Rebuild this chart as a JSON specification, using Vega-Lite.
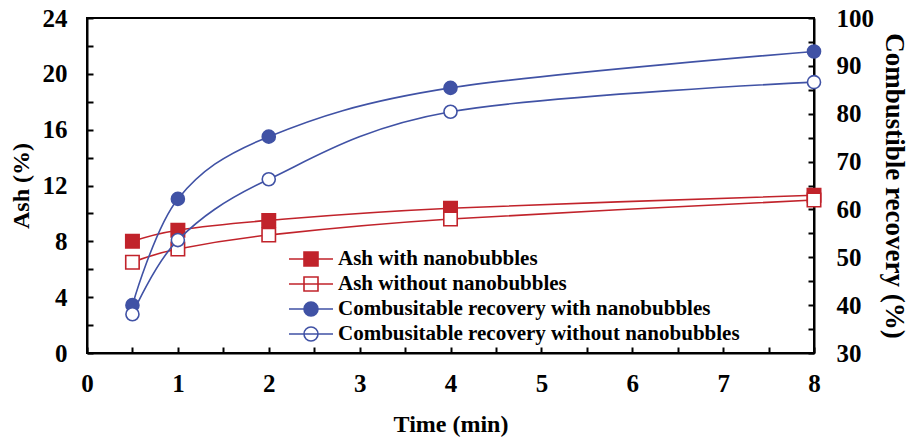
{
  "$schema": "https://vega.github.io/schema/vega-lite/v6.json",
  "width": 727,
  "height": 335,
  "autosize": {"type": "none"},
  "padding": {"left": 87, "top": 18, "right": 98, "bottom": 85},
  "background": "white",
  "config": {
    "font": "Liberation Serif",
    "view": {"stroke": "black", "strokeWidth": 2},
    "axis": {
      "domainColor": "black",
      "domainWidth": 2,
      "tickColor": "black",
      "tickWidth": 2,
      "tickSize": -6,
      "grid": false,
      "labelFont": "Liberation Serif",
      "labelFontWeight": "bold",
      "labelFontSize": 25,
      "labelColor": "black",
      "titleFont": "Liberation Serif",
      "titleFontWeight": "bold",
      "titleFontSize": 24,
      "titleColor": "black"
    },
    "legend": {
      "orient": "none",
      "legendX": 213,
      "legendY": 230,
      "symbolSize": 400,
      "symbolStrokeWidth": 1.6,
      "symbolOpacity": 1,
      "rowPadding": 3,
      "labelOffset": 16,
      "labelFont": "Liberation Serif",
      "labelFontWeight": "bold",
      "labelFontSize": 21,
      "labelColor": "black",
      "labelLimit": 600,
      "padding": 0
    }
  },
  "data": {
    "values": [
      {"series": "Ash with nanobubbles", "time": 0.5, "value": 8.0},
      {"series": "Ash with nanobubbles", "time": 1, "value": 8.8},
      {"series": "Ash with nanobubbles", "time": 2, "value": 9.5},
      {"series": "Ash with nanobubbles", "time": 4, "value": 10.37},
      {"series": "Ash with nanobubbles", "time": 8, "value": 11.3},
      {"series": "Ash without nanobubbles", "time": 0.5, "value": 6.5},
      {"series": "Ash without nanobubbles", "time": 1, "value": 7.45},
      {"series": "Ash without nanobubbles", "time": 2, "value": 8.45},
      {"series": "Ash without nanobubbles", "time": 4, "value": 9.6},
      {"series": "Ash without nanobubbles", "time": 8, "value": 10.96},
      {"series": "Combusitable recovery with nanobubbles", "time": 0.5, "value": 40.0},
      {"series": "Combusitable recovery with nanobubbles", "time": 1, "value": 62.2},
      {"series": "Combusitable recovery with nanobubbles", "time": 2, "value": 75.2},
      {"series": "Combusitable recovery with nanobubbles", "time": 4, "value": 85.4},
      {"series": "Combusitable recovery with nanobubbles", "time": 8, "value": 93.0},
      {"series": "Combusitable recovery without nanobubbles", "time": 0.5, "value": 38.1},
      {"series": "Combusitable recovery without nanobubbles", "time": 1, "value": 53.6},
      {"series": "Combusitable recovery without nanobubbles", "time": 2, "value": 66.3},
      {"series": "Combusitable recovery without nanobubbles", "time": 4, "value": 80.4},
      {"series": "Combusitable recovery without nanobubbles", "time": 8, "value": 86.6}
    ]
  },
  "encoding": {
    "x": {
      "field": "time",
      "type": "quantitative",
      "scale": {"domain": [0, 8], "nice": false},
      "axis": {
        "title": "Time (min)",
        "values": [0, 0.5, 1, 1.5, 2, 2.5, 3, 3.5, 4, 4.5, 5, 5.5, 6, 6.5, 7, 7.5, 8],
        "labelExpr": "datum.value % 1 === 0 ? format(datum.value, 'd') : ''",
        "labelPadding": 24,
        "titlePadding": 16,
        "labelFlush": false
      }
    }
  },
  "layer": [
    {
      "transform": [{"filter": "indexof(datum.series, 'Ash') === 0"}],
      "encoding": {
        "y": {
          "field": "value",
          "type": "quantitative",
          "scale": {"domain": [0, 24], "nice": false},
          "axis": {
            "title": "Ash (%)",
            "orient": "left",
            "values": [0, 2, 4, 6, 8, 10, 12, 14, 16, 18, 20, 22, 24],
            "labelExpr": "datum.value % 4 === 0 ? datum.label : ''",
            "labelPadding": 26,
            "titlePadding": 9,
            "labelFlush": false
          }
        }
      },
      "layer": [
        {
          "mark": {"type": "point", "opacity": 0, "size": 400, "strokeWidth": 1.6},
          "encoding": {
            "shape": {
              "field": "series",
              "type": "nominal",
              "title": null,
              "scale": {
                "domain": ["Ash with nanobubbles", "Ash without nanobubbles", "Combusitable recovery with nanobubbles", "Combusitable recovery without nanobubbles"],
                "range": [
                  "M-2.2,0H2.2M-0.7,-0.7H0.7V0.7H-0.7Z",
                  "M-2.2,0H2.2M-0.7,-0.7H0.7V0.7H-0.7Z",
                  "M-2.2,0H2.2M0.7,0A0.7,0.7,0,1,1,-0.7,0A0.7,0.7,0,1,1,0.7,0Z",
                  "M-2.2,0H2.2M0.7,0A0.7,0.7,0,1,1,-0.7,0A0.7,0.7,0,1,1,0.7,0Z"
                ]
              }
            },
            "fill": {
              "field": "series",
              "type": "nominal",
              "title": null,
              "scale": {
                "domain": ["Ash with nanobubbles", "Ash without nanobubbles", "Combusitable recovery with nanobubbles", "Combusitable recovery without nanobubbles"],
                "range": ["#C1232B", "white", "#4052A5", "white"]
              }
            },
            "stroke": {
              "field": "series",
              "type": "nominal",
              "title": null,
              "scale": {
                "domain": ["Ash with nanobubbles", "Ash without nanobubbles", "Combusitable recovery with nanobubbles", "Combusitable recovery without nanobubbles"],
                "range": ["#C1232B", "#C1232B", "#4052A5", "#4052A5"]
              }
            }
          }
        },
        {
          "mark": {"type": "line", "interpolate": "cardinal", "strokeWidth": 1.6, "color": "#C1232B"},
          "encoding": {
            "detail": {"field": "series", "type": "nominal"}
          }
        },
        {
          "mark": {"type": "point", "shape": "square", "size": 180, "strokeWidth": 1.6, "opacity": 1},
          "encoding": {
            "fill": {"field": "series", "type": "nominal", "title": null},
            "stroke": {"field": "series", "type": "nominal", "title": null}
          }
        }
      ]
    },
    {
      "transform": [{"filter": "indexof(datum.series, 'Combusitable') === 0"}],
      "encoding": {
        "y": {
          "field": "value",
          "type": "quantitative",
          "scale": {"domain": [30, 100], "nice": false},
          "axis": {
            "title": "Combustible recovery (%)",
            "titleFontSize": 27,
            "orient": "right",
            "values": [30, 35, 40, 45, 50, 55, 60, 65, 70, 75, 80, 85, 90, 95, 100],
            "labelExpr": "datum.value % 10 === 0 ? datum.label : ''",
            "labelPadding": 28,
            "titlePadding": 6,
            "labelFlush": false
          }
        }
      },
      "layer": [
        {
          "mark": {"type": "line", "interpolate": "cardinal", "strokeWidth": 1.6, "color": "#4052A5"},
          "encoding": {
            "detail": {"field": "series", "type": "nominal"}
          }
        },
        {
          "mark": {"type": "point", "shape": "circle", "size": 170, "strokeWidth": 1.6, "opacity": 1},
          "encoding": {
            "fill": {"field": "series", "type": "nominal", "title": null},
            "stroke": {"field": "series", "type": "nominal", "title": null}
          }
        }
      ]
    }
  ],
  "resolve": {"scale": {"y": "independent"}}
}
